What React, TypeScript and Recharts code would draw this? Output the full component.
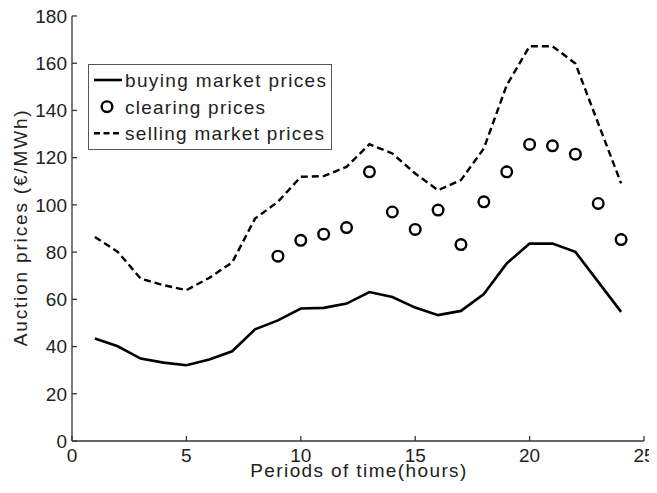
import React from "react";
import { ComposedChart, Line, Scatter, XAxis, YAxis, Legend } from "recharts";

// hours 1..24
const hours = [1, 2, 3, 4, 5, 6, 7, 8, 9, 10, 11, 12, 13, 14, 15, 16, 17, 18, 19, 20, 21, 22, 23, 24];
const buyingPrices = [43.4, 40.1, 34.9, 33.2, 32.1, 34.5, 38, 47.3, 51.1, 56.1, 56.4, 58.2, 63.1, 61, 56.5, 53.3, 55.1, 62.2, 75.2, 83.6, 83.6, 80.1, 67.4, 54.7];
const sellingPrices = [86.4, 80.1, 68.8, 66, 63.9, 69.1, 75.6, 94.2, 101.3, 111.9, 112.2, 116.1, 125.7, 121.8, 113.3, 106.2, 110.5, 123.9, 150.7, 167.2, 167.2, 159.9, 134.5, 109.1];
// clearing prices only from hour 9
const clearingHours = [9, 10, 11, 12, 13, 14, 15, 16, 17, 18, 19, 20, 21, 22, 23, 24];
const clearingPrices = [78.3, 85, 87.6, 90.4, 114, 97, 89.6, 97.8, 83.2, 101.3, 114, 125.6, 125, 121.5, 100.6, 85.3];

const xTicks = [0, 5, 10, 15, 20, 25];
const yTicks = [0, 20, 40, 60, 80, 100, 120, 140, 160, 180];

const lineData = hours.map((h, i) => ({ hour: h, buying: buyingPrices[i], selling: sellingPrices[i] }));
const clearingData = clearingHours.map((h, i) => ({ hour: h, clearing: clearingPrices[i] }));

const FONT = "'Liberation Sans', Arial, sans-serif";
const AXIS = "#333";

const emptyTick = () => <g />;

const Circle = (props: any) => (
  <circle cx={props.cx} cy={props.cy} r={5.3} fill="none" stroke="#000" strokeWidth={2.4} />
);

const LegendBox = () => (
  <svg width={245} height={87} style={{ display: "block" }}>
    <rect x={0.5} y={0.5} width={243} height={85} fill="#fff" stroke="#555" strokeWidth={1} />
    <line x1={6} x2={34} y1={16} y2={16} stroke="#000" strokeWidth={2.6} />
    <circle cx={19} cy={42.7} r={5.3} fill="none" stroke="#000" strokeWidth={2.4} />
    <line x1={6} x2={34} y1={69.3} y2={69.3} stroke="#000" strokeWidth={2.4} strokeDasharray="6 3.5" />
    <g fontFamily={FONT} fontSize={19} fill="#222">
      <text x={37} y={22.8} textLength={201} lengthAdjust="spacing">buying market prices</text>
      <text x={37} y={49.5} textLength={140} lengthAdjust="spacing">clearing prices</text>
      <text x={37} y={76.1} textLength={199} lengthAdjust="spacing">selling market prices</text>
    </g>
  </svg>
);

const XLabel = () => (
  <text x={358.3} y={477} textAnchor="middle" fontFamily={FONT} fontSize={19} fill="#222" textLength={216} lengthAdjust="spacing">
    Periods of time(hours)
  </text>
);

const YLabel = () => (
  <text x={27.3} y={228.3} textAnchor="middle" fontFamily={FONT} fontSize={19} fill="#222" transform="rotate(-90, 27.3, 228.3)" textLength={236} lengthAdjust="spacing">
    Auction prices (€/MWh)
  </text>
);

const tickStyle = { fontFamily: FONT, fontSize: 19, fill: "#222" };

export default function App() {
  return (
    <div style={{ width: 657, height: 493, margin: -8, background: "#fff" }}>
      <ComposedChart width={657} height={493} data={lineData} margin={{ top: 16, right: 13, bottom: 0, left: 0 }}>
        <XAxis
          dataKey="hour"
          type="number"
          domain={[0, 25]}
          ticks={xTicks}
          interval={0}
          height={52}
          tickSize={-5}
          tickMargin={13}
          stroke={AXIS}
          strokeWidth={1.3}
          tick={tickStyle}
          label={<XLabel />}
        />
        <XAxis
          xAxisId="top"
          orientation="top"
          type="number"
          domain={[0, 25]}
          ticks={xTicks}
          interval={0}
          height={0}
          tickSize={-5}
          stroke={AXIS}
          strokeWidth={1.3}
          tick={emptyTick}
        />
        <YAxis
          type="number"
          domain={[0, 180]}
          ticks={yTicks}
          interval={0}
          width={72}
          tickSize={-5}
          tickMargin={10}
          stroke={AXIS}
          strokeWidth={1.3}
          tick={tickStyle}
          label={<YLabel />}
        />
        <YAxis
          yAxisId="right"
          orientation="right"
          type="number"
          domain={[0, 180]}
          ticks={yTicks}
          interval={0}
          width={0}
          tickSize={-5}
          stroke={AXIS}
          strokeWidth={1.3}
          tick={emptyTick}
        />
        <Legend layout="horizontal" verticalAlign="middle" align="center" content={<LegendBox />} wrapperStyle={{ left: 88, top: 64, width: 245, height: 87 }} />
        <Line dataKey="buying" type="linear" stroke="#000" strokeWidth={2.6} dot={false} isAnimationActive={false} />
        <Line dataKey="selling" type="linear" stroke="#000" strokeWidth={2.4} strokeDasharray="7 4" dot={false} isAnimationActive={false} />
        <Scatter data={clearingData} dataKey="clearing" shape={<Circle />} isAnimationActive={false} />
      </ComposedChart>
    </div>
  );
}
